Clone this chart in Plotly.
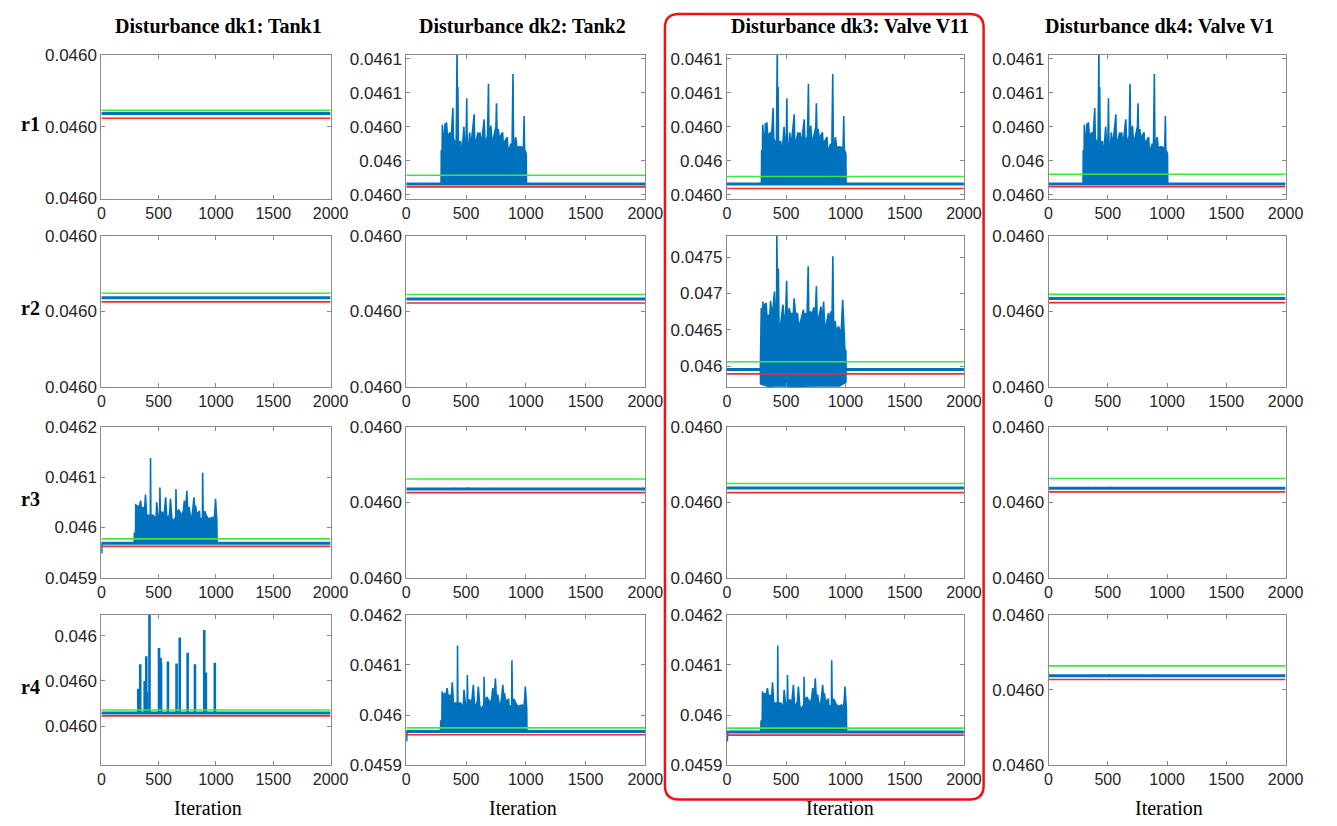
import plotly.graph_objects as go

W, H = 1337, 826

# ---------------- layout of the 4x4 grid (pixel boxes) ----------------
COL_PX = [(99, 332), (409, 652), (735, 976), (1062, 1303)]
ROW_PX = [(47, 194), (232, 387), (428, 582), (620, 774)]

COLUMN_TITLES = ["Disturbance dk1: Tank1", "Disturbance dk2: Tank2",
                 "Disturbance dk3: Valve V11", "Disturbance dk4: Valve V1"]
TITLE_X = [218, 527, 860, 1175]
ROW_LABELS = ["r1", "r2", "r3", "r4"]
X_LABEL = "Iteration"
XLABEL_X = [207, 528, 850, 1184]
X_TICKS = [0, 500, 1000, 1500, 2000]

# ---------------- y-axis scales ----------------
Y_SCALES = {
    "flat": dict(range=[0.04596, 0.04604], ticks=[0.04596, 0.04600, 0.04604],
                 text=["0.0460", "0.0460", "0.0460"]),
    "A": dict(range=[0.0459666, 0.0460934], ticks=[0.04597, 0.04600, 0.04603, 0.04606, 0.04609],
              text=["0.0460", "0.046", "0.0460", "0.0461", "0.0461"]),
    "B": dict(range=[0.0459, 0.0462], ticks=[0.0459, 0.0460, 0.0461, 0.0462],
              text=["0.0459", "0.046", "0.0461", "0.0462"]),
    "C": dict(range=[0.045715, 0.047794], ticks=[0.046, 0.0465, 0.047, 0.0475],
              text=["0.046", "0.0465", "0.047", "0.0475"]),
    "D": dict(range=[0.0459426, 0.0460094], ticks=[0.04596, 0.04598, 0.04600],
              text=["0.0460", "0.0460", "0.046"]),
}

# panel kind per row/column
PANEL_KIND = [
    ["flat", "A", "A", "A"],
    ["flat", "flat", "C", "flat"],
    ["B", "flat_s", "flat", "flat_s"],
    ["D", "B", "B", "flat_s"],
]
# residual (blue), upper threshold (green), lower threshold (red)
BLUE_LEVEL = [
    [0.0460074, 0.0459794, 0.0459794, 0.0459794],
    [0.0460072, 0.0460066, 0.0459553, 0.0460068],
    [0.0459686, 0.0460071, 0.0460076, 0.0460075],
    [0.0459658, 0.0459671, 0.0459660, 0.0460076],
]
GREEN_LEVEL = [
    [0.0460091, 0.0459871, 0.0459860, 0.0459880],
    [0.0460096, 0.0460089, 0.0460637, 0.0460090],
    [0.0459773, 0.0460124, 0.0460100, 0.0460127],
    [0.0459671, 0.0459744, 0.0459740, 0.0460128],
]
RED_LEVEL = [
    [0.0460047, 0.0459769, 0.0459755, 0.0459770],
    [0.0460050, 0.0460044, 0.0458970, 0.0460046],
    [0.0459622, 0.0460052, 0.0460052, 0.0460056],
    [0.0459645, 0.0459606, 0.0459600, 0.0460056],
]

# ---------------- residual signal envelopes (None = residual baseline) ----------------
A_ITER = [291, 293, 300, 302, 310, 322, 324, 330, 337, 345,
          355, 365, 375, 385, 390, 395, 405, 418, 420, 425,
          428, 432, 436, 455, 460, 467, 470, 478, 482, 490,
          500, 506, 510, 520, 530, 540, 550, 560, 568, 572,
          580, 590, 600, 610, 617, 625, 635, 645, 652, 658,
          668, 680, 688, 692, 700, 708, 715, 725, 740, 750,
          755, 760, 770, 778, 790, 806, 812, 825, 845, 852,
          860, 875, 885, 893, 898, 908, 915, 922, 928, 935,
          946, 965, 980, 986, 990, 1004, 1006]
A_VALUE = [None, 0.0460088, 0.0460088, 0.0460317, 0.0460200, 0.0460250, 0.0460330, 0.0460220, 0.0460340, 0.0460200,
           0.0460230, 0.0460250, 0.0460180, 0.0460440, 0.0460465, 0.0460200, 0.0460160, 0.0460180, 0.0461000, 0.0461000,
           0.0460180, 0.0460651, 0.0460166, 0.0460166, 0.0460080, 0.0459951, 0.0460120, 0.0460300, 0.0460300, 0.0460150,
           0.0460120, 0.0460551, 0.0460120, 0.0460100, 0.0460250, 0.0460120, 0.0460200, 0.0460320, 0.0460409, 0.0460200,
           0.0460150, 0.0460200, 0.0460250, 0.0460200, 0.0460250, 0.0460160, 0.0460200, 0.0460300, 0.0460366, 0.0460200,
           0.0460170, 0.0460220, 0.0460680, 0.0460200, 0.0460250, 0.0460309, 0.0460200, 0.0460180, 0.0460250, 0.0460300,
           0.0460508, 0.0460250, 0.0460280, 0.0460200, 0.0460220, 0.0460251, 0.0460150, 0.0460170, 0.0460208, 0.0460050,
           0.0460100, 0.0460150, 0.0460100, 0.0460765, 0.0460120, 0.0460150, 0.0460208, 0.0460160, 0.0460037, 0.0460120,
           0.0460123, 0.0460120, 0.0460100, 0.0460394, 0.0460100, 0.0460060, None]

B_ITER = [0, 4, 6, 286, 288, 298, 300, 310, 318, 330,
          342, 352, 365, 375, 385, 395, 427, 429, 432, 455,
          468, 471, 474, 483, 495, 509, 511, 515, 533, 545,
          561, 570, 584, 595, 603, 615, 631, 640, 649, 651,
          655, 673, 690, 702, 715, 724, 735, 746, 755, 766,
          776, 786, 797, 808, 815, 822, 830, 846, 856, 863,
          868, 872, 882, 884, 888, 904, 915, 936, 958, 968,
          982, 990, 996, 1000, 1008, 1010]
B_VALUE = [0.0459490, 0.0459490, None, None, 0.0459882, 0.0459882, 0.0460471, 0.0460330, 0.0460438, 0.0460380,
           0.0460536, 0.0460330, 0.0460405, 0.0460280, 0.0460654, 0.0460240, 0.0460240, 0.0461386, 0.0460240, 0.0460240,
           0.0460180, 0.0459850, 0.0460180, 0.0460504, 0.0460230, 0.0460230, 0.0460798, 0.0460300, 0.0460300, 0.0460180,
           0.0460602, 0.0460240, 0.0460170, 0.0460280, 0.0460569, 0.0460180, 0.0460110, 0.0460180, 0.0460180, 0.0460765,
           0.0460230, 0.0460360, 0.0460280, 0.0460240, 0.0460330, 0.0460536, 0.0460330, 0.0460732, 0.0460280, 0.0460405,
           0.0460230, 0.0460170, 0.0460330, 0.0460602, 0.0460370, 0.0460438, 0.0460300, 0.0460280, 0.0460330, 0.0460130,
           0.0459882, 0.0460180, 0.0460180, 0.0461092, 0.0460310, 0.0460310, 0.0460240, 0.0460170, 0.0460190, 0.0460200,
           0.0460140, 0.0460300, 0.0460569, 0.0460400, 0.0460130, None]

C_ITER = [282, 284, 290, 296, 304, 312, 320, 332, 340, 351,
          360, 368, 380, 390, 401, 412, 419, 421, 425, 434,
          440, 451, 462, 473, 485, 495, 504, 510, 526, 537,
          548, 556, 567, 580, 595, 605, 622, 632, 645, 654,
          664, 675, 686, 692, 705, 718, 733, 745, 755, 762,
          774, 785, 794, 805, 816, 826, 838, 848, 857, 866,
          877, 886, 894, 900, 913, 925, 941, 955, 965, 977,
          986, 996, 1004, 1006]
C_VALUE = [None, 0.046400, 0.046800, 0.046500, 0.046890, 0.046600, 0.046850, 0.046867, 0.046600, 0.046710,
           0.046650, 0.046900, 0.046700, 0.046820, 0.047026, 0.046600, 0.046700, 0.047800, 0.047300, 0.047342,
           0.046500, 0.046551, 0.046700, 0.046846, 0.046600, 0.046700, 0.047175, 0.046650, 0.046800, 0.046700,
           0.046732, 0.046600, 0.046935, 0.046700, 0.046732, 0.046550, 0.046619, 0.046700, 0.046778, 0.046650,
           0.046732, 0.046600, 0.047374, 0.046600, 0.046755, 0.046700, 0.046809, 0.046650, 0.047103, 0.046600,
           0.046664, 0.046750, 0.046822, 0.046600, 0.046890, 0.046500, 0.046575, 0.046650, 0.046732, 0.046600,
           0.046755, 0.046500, 0.047510, 0.046600, 0.046619, 0.046450, 0.046551, 0.046484, 0.046500, 0.046913,
           0.046480, 0.046213, 0.046213, None]
C_LOW_ITER = [282, 284, 350, 450, 550, 650, 750, 850, 950, 1004, 1006]
C_LOW_VALUE = [None, 0.045760, 0.045725, 0.045735, 0.045725, 0.045730, 0.045725, 0.045735, 0.045730, 0.045780, None]

D_SPIKE_ITER = [322, 339, 378, 392, 398, 420, 503, 517, 521, 581, 656, 684, 753, 817, 898, 912, 990]
D_SPIKE_VALUE = [0.0459765, 0.0459874, 0.0459800, 0.0459910, 0.0459750, 0.0460100, 0.0459946, 0.0459903,
                 0.0459880, 0.0459886, 0.0459877, 0.0459993, 0.0459925, 0.0459874, 0.0460026, 0.0459838, 0.0459881]

SMALL_SPIKE_ITER = [395, 420, 445, 510, 522, 580, 640, 700, 760, 910, 1985]
SMALL_SPIKE_RISE = [8e-7, 6e-7, 7e-7, 1.0e-6, 8e-7, 7e-7, 6e-7, 7e-7, 6e-7, 6e-7, 7e-7]

ENVELOPES = {"A": (A_ITER, A_VALUE), "B": (B_ITER, B_VALUE), "C": (C_ITER, C_VALUE)}

BLUE = "#0072BD"
GREEN = "rgb(60,232,60)"
RED = "rgb(238,45,45)"
AXIS_COLOR = "#8a8a8a"
SANS = "Liberation Sans, Arial, sans-serif"
X_TICK_FONT = dict(family=SANS, size=16, color="#262626")
Y_TICK_FONT = dict(family=SANS, size=17, color="#262626")
SERIF = "Liberation Serif, Times New Roman, serif"

fig = go.Figure()
layout = dict(width=W, height=H, margin=dict(l=0, r=0, t=0, b=0),
              paper_bgcolor="white", plot_bgcolor="white", showlegend=False)

for r in range(4):
    for c in range(4):
        n = r * 4 + c + 1
        sfx = "" if n == 1 else str(n)
        xref, yref = "x" + sfx, "y" + sfx
        kind = PANEL_KIND[r][c]
        scale = Y_SCALES["flat" if kind.startswith("flat") else kind]
        base = BLUE_LEVEL[r][c]
        x0, x1 = COL_PX[c]
        t0, t1 = ROW_PX[r]
        common = dict(showline=True, linecolor=AXIS_COLOR, linewidth=1, mirror="ticks",
                      ticks="inside", ticklen=4, tickcolor=AXIS_COLOR, showgrid=False,
                      zeroline=False, fixedrange=True)
        layout["xaxis" + sfx] = dict(domain=[x0 / W, x1 / W], anchor=yref, range=[0, 2000],
                                     tickvals=X_TICKS, ticktext=[str(v) for v in X_TICKS],
                                     tickfont=X_TICK_FONT, **common)
        layout["yaxis" + sfx] = dict(domain=[1 - t1 / H, 1 - t0 / H], anchor=xref,
                                     range=scale["range"], tickvals=scale["ticks"],
                                     ticktext=scale["text"], tickfont=Y_TICK_FONT, **common)

        # residual signal
        if kind in ENVELOPES:
            it, vals = ENVELOPES[kind]
            ys = [base if v is None else v for v in vals]
            if kind == "C":
                low = [base if v is None else v for v in C_LOW_VALUE]
                px = list(it) + C_LOW_ITER[::-1]
                py = ys + low[::-1]
            else:
                px = list(it) + list(it)[::-1]
                py = ys + [base] * len(it)
            fig.add_trace(go.Scatter(x=px, y=py, xaxis=xref, yaxis=yref, mode="lines",
                                     fill="toself", fillcolor=BLUE, line=dict(width=0),
                                     hoverinfo="skip"))
            fig.add_trace(go.Scatter(x=list(it), y=ys, xaxis=xref, yaxis=yref, mode="lines",
                                     line=dict(color=BLUE, width=1.6), hoverinfo="skip"))
            if kind == "C":
                fig.add_trace(go.Scatter(x=C_LOW_ITER, y=low, xaxis=xref, yaxis=yref, mode="lines",
                                         line=dict(color=BLUE, width=1.6), hoverinfo="skip"))
        if kind == "D":
            sx, sy = [], []
            for i, v in zip(D_SPIKE_ITER, D_SPIKE_VALUE):
                sx += [i, i, None]
                sy += [base, v, None]
            fig.add_trace(go.Scatter(x=sx, y=sy, xaxis=xref, yaxis=yref, mode="lines",
                                     line=dict(color=BLUE, width=2.6), hoverinfo="skip"))
        if kind == "flat_s":
            sx, sy = [], []
            for i, d in zip(SMALL_SPIKE_ITER, SMALL_SPIKE_RISE):
                sx += [i, i, None]
                sy += [base, base + d, None]
            fig.add_trace(go.Scatter(x=sx, y=sy, xaxis=xref, yaxis=yref, mode="lines",
                                     line=dict(color=BLUE, width=1.2), hoverinfo="skip"))
        fig.add_trace(go.Scatter(x=[0, 2000], y=[base, base], xaxis=xref, yaxis=yref, mode="lines",
                                 line=dict(color=BLUE, width=3), hoverinfo="skip"))
        # thresholds
        g = GREEN_LEVEL[r][c]
        rd = RED_LEVEL[r][c]
        fig.add_trace(go.Scatter(x=[0, 2000], y=[g, g], xaxis=xref, yaxis=yref, mode="lines",
                                 line=dict(color=GREEN, width=1.6), hoverinfo="skip"))
        fig.add_trace(go.Scatter(x=[0, 2000], y=[rd, rd], xaxis=xref, yaxis=yref, mode="lines",
                                 line=dict(color=RED, width=1.6), hoverinfo="skip"))

annotations = []
for c in range(4):
    annotations.append(dict(text="<b>" + COLUMN_TITLES[c] + "</b>", x=TITLE_X[c] / W, y=1 - 17 / H,
                            xref="paper", yref="paper", showarrow=False, xanchor="center", yanchor="middle",
                            font=dict(family=SERIF, size=20, color="black")))
    annotations.append(dict(text=X_LABEL, x=XLABEL_X[c] / W, y=1 - 818 / H,
                            xref="paper", yref="paper", showarrow=False, xanchor="center", yanchor="middle",
                            font=dict(family=SERIF, size=20, color="black")))
for r in range(4):
    t0, t1 = ROW_PX[r]
    annotations.append(dict(text="<b>" + ROW_LABELS[r] + "</b>", x=27 / W, y=1 - ((t0 + t1) / 2 - 3) / H,
                            xref="paper", yref="paper", showarrow=False, xanchor="center", yanchor="middle",
                            font=dict(family=SERIF, size=20, color="black")))
layout["annotations"] = annotations

# rounded red frame around the dk3 column
bx0, bx1, byt, byb, rad = 672 / W, 996 / W, 1 - 5 / H, 1 - 809 / H, 14
rx, ry = rad / W, rad / H
path = (f"M {bx0 + rx} {byt} L {bx1 - rx} {byt} Q {bx1} {byt} {bx1} {byt - ry} "
        f"L {bx1} {byb + ry} Q {bx1} {byb} {bx1 - rx} {byb} "
        f"L {bx0 + rx} {byb} Q {bx0} {byb} {bx0} {byb + ry} "
        f"L {bx0} {byt - ry} Q {bx0} {byt} {bx0 + rx} {byt} Z")
layout["shapes"] = [dict(type="path", path=path, xref="paper", yref="paper",
                         line=dict(color="rgb(235,20,20)", width=2.5))]

fig.update_layout(**layout)
fig.write_html("out.html")
